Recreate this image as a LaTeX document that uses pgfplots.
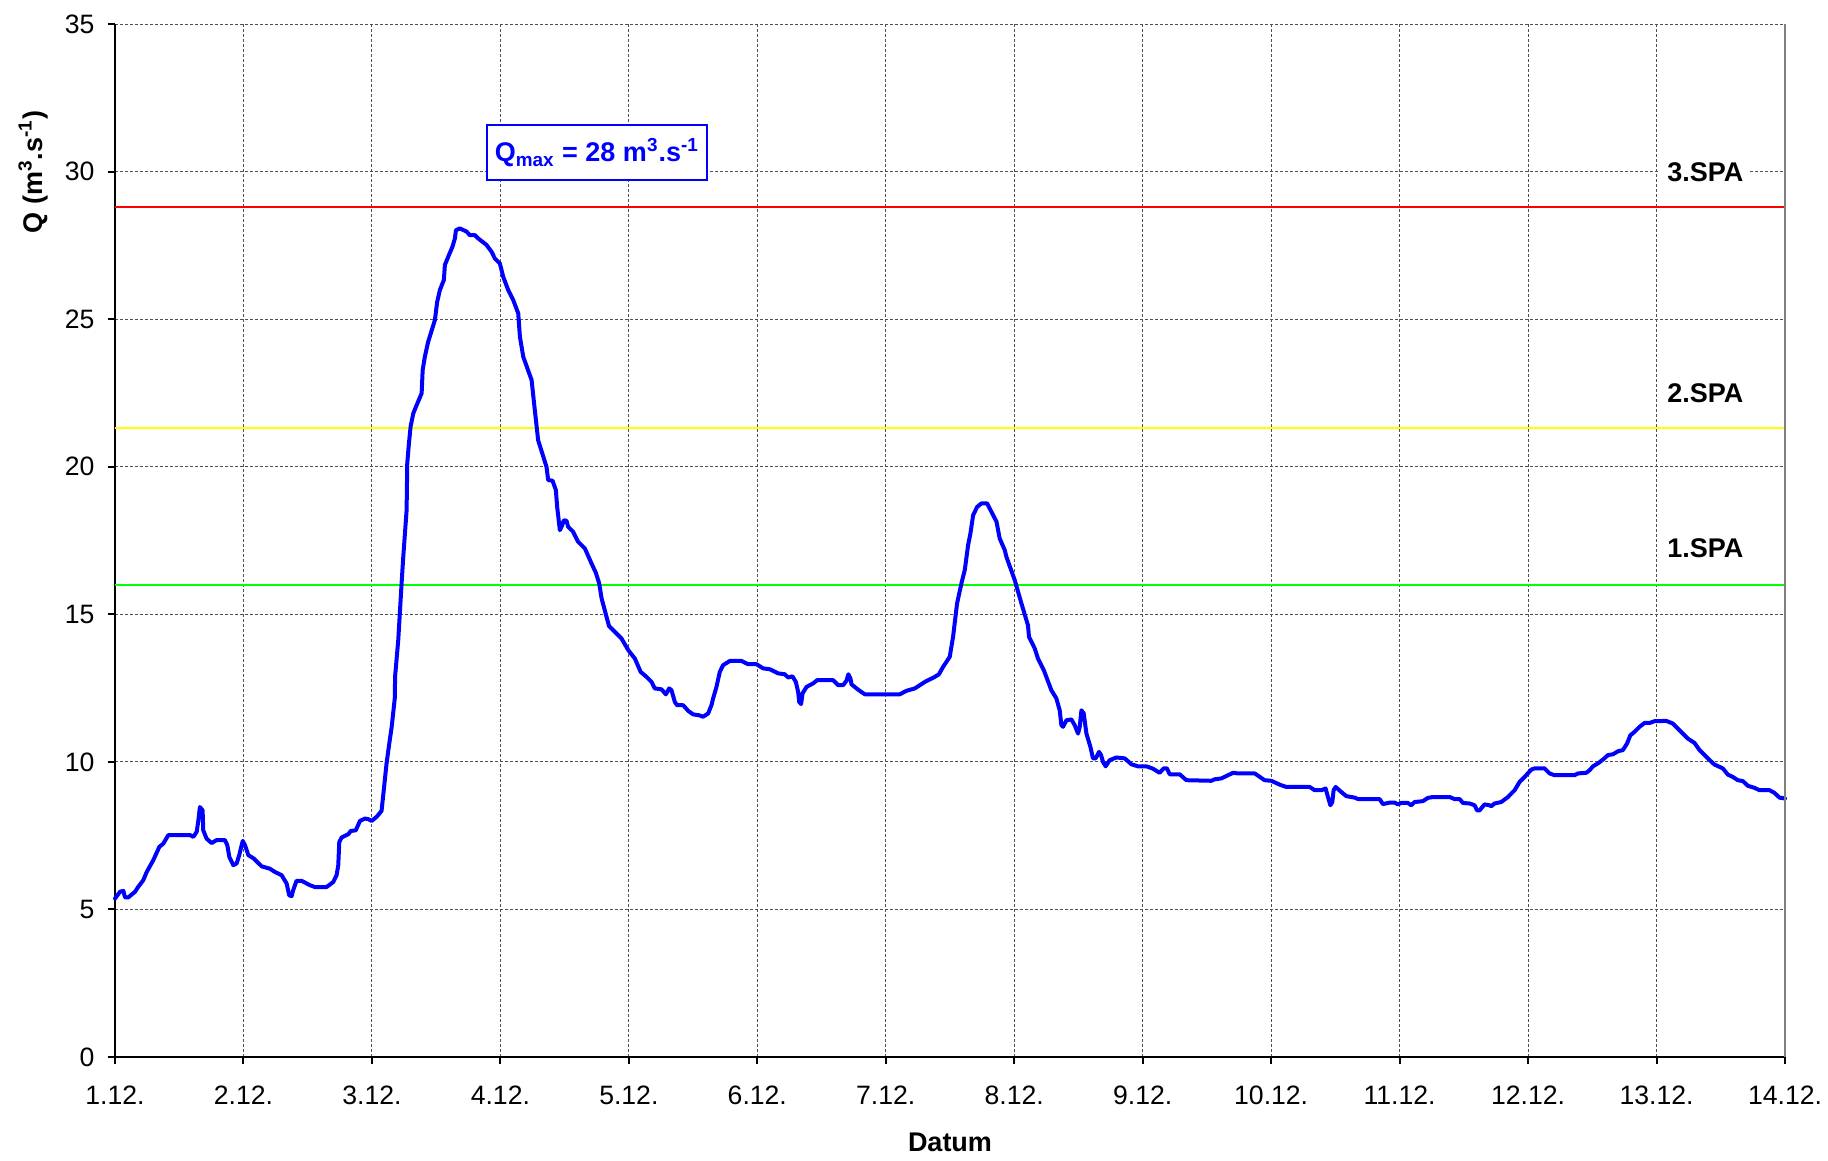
\documentclass[border=0pt]{standalone}
\usepackage{fontspec}
\setmainfont{Liberation Sans}
\usepackage{pgfplots}
\pgfplotsset{compat=1.18}

\definecolor{qblue}{RGB}{0,0,255}
\definecolor{spared}{RGB}{255,0,0}
\definecolor{spayellow}{RGB}{255,255,0}
\definecolor{spagreen}{RGB}{0,255,0}
\definecolor{gridgray}{RGB}{80,80,80}

\begin{document}
\begin{tikzpicture}
\begin{axis}[
  scale only axis,
  width=835pt, height=516.4pt,
  at={(0,0)}, anchor=south west,
  xmin=0, xmax=13, ymin=0, ymax=35,
  xtick={0,1,...,13},
  xticklabels={1.12.,2.12.,3.12.,4.12.,5.12.,6.12.,7.12.,8.12.,9.12.,10.12.,11.12.,12.12.,13.12.,14.12.},
  ytick={0,5,...,35},
  axis x line*=bottom, axis y line*=left,
  axis line style={-, line width=1pt, black},
  tick align=outside,
  major tick length=3.75pt,
  tick style={black, line width=1pt},
  grid=major,
  major grid style={gridgray, line width=0.5pt, dash pattern=on 1.5pt off 1pt},
  /pgf/number format/assume math mode=true,
  tick label style={font=\fontsize{13.3}{15}\selectfont},
  xticklabel style={yshift=-7pt},
  yticklabel style={xshift=-3pt},
  xlabel={\textbf{Datum}},
  xlabel style={at={(axis description cs:0.5,0)}, anchor=center, yshift=-42.8pt,
                font=\fontsize{13.5}{15}\selectfont},
  ylabel={\textbf{Q (m\textsuperscript{3}.s\textsuperscript{-1})}},
  ylabel style={at={(axis description cs:-0.049,0.857)}, anchor=center,
                font=\fontsize{13.5}{15}\selectfont},
  clip=false,
]

% flood warning levels (stupne povodnove aktivity)
\addplot[spared, line width=1pt] coordinates {(0,28.8) (13,28.8)};
\addplot[spayellow, line width=1pt] coordinates {(0,21.3) (13,21.3)};
\addplot[spagreen, line width=1pt] coordinates {(0,16.0) (13,16.0)};

% discharge hydrograph
\addplot[qblue, line width=2pt, line join=round, line cap=round] coordinates {
(0,5.37) (0.039,5.6) (0.065,5.63) (0.078,5.41) (0.104,5.41) (0.156,5.6) (0.18,5.76)
(0.22,5.99) (0.247,6.27) (0.298,6.67) (0.345,7.12) (0.376,7.23) (0.415,7.52) (0.584,7.52)
(0.61,7.46) (0.636,7.63) (0.649,8.02) (0.661,8.47) (0.682,8.36) (0.687,7.68) (0.713,7.4)
(0.752,7.25) (0.791,7.35) (0.856,7.35) (0.874,7.18) (0.89,6.78) (0.921,6.5) (0.947,6.56)
(0.967,6.84) (0.994,7.32) (1.012,7.18) (1.038,6.84) (1.082,6.72) (1.142,6.46) (1.206,6.38)
(1.245,6.27) (1.297,6.16) (1.336,5.88) (1.356,5.48) (1.375,5.45) (1.387,5.65) (1.413,5.97)
(1.453,5.97) (1.518,5.82) (1.556,5.76) (1.647,5.76) (1.699,5.93) (1.725,6.16) (1.738,6.5)
(1.746,7.29) (1.765,7.44) (1.816,7.55) (1.835,7.66) (1.874,7.68) (1.907,8.0) (1.946,8.08)
(1.972,8.06) (1.998,8.0) (2.037,8.14) (2.075,8.34) (2.088,8.87) (2.114,9.95) (2.135,10.62)
(2.154,11.19) (2.179,12.2) (2.18,12.88) (2.205,14.13) (2.231,16.05) (2.244,16.95) (2.27,18.53)
(2.275,20.11) (2.288,20.79) (2.301,21.36) (2.322,21.81) (2.348,22.09) (2.387,22.49) (2.395,23.28)
(2.412,23.73) (2.438,24.24) (2.49,24.97) (2.508,25.59) (2.529,25.99) (2.56,26.33) (2.568,26.84)
(2.594,27.12) (2.627,27.46) (2.646,27.74) (2.654,28.02) (2.685,28.08) (2.737,27.97) (2.763,27.85)
(2.802,27.85) (2.827,27.74) (2.892,27.52) (2.931,27.29) (2.957,27.06) (2.996,26.89) (3.022,26.44)
(3.061,25.99) (3.1,25.65) (3.139,25.2) (3.152,24.41) (3.178,23.73) (3.243,22.94) (3.268,21.92)
(3.294,20.9) (3.359,20.0) (3.372,19.55) (3.406,19.53) (3.432,19.21) (3.442,18.64) (3.463,17.85)
(3.481,18.02) (3.494,18.19) (3.515,18.17) (3.527,17.97) (3.566,17.8) (3.605,17.46) (3.658,17.23)
(3.709,16.73) (3.743,16.41) (3.769,16.05) (3.788,15.54) (3.826,14.92) (3.846,14.6) (3.891,14.41)
(3.943,14.18) (3.995,13.79) (4.047,13.5) (4.092,13.05) (4.138,12.88) (4.177,12.71) (4.202,12.49)
(4.254,12.46) (4.288,12.29) (4.314,12.49) (4.332,12.43) (4.358,12.03) (4.376,11.92) (4.423,11.92)
(4.462,11.73) (4.501,11.61) (4.547,11.58) (4.578,11.53) (4.617,11.64) (4.643,11.92) (4.656,12.15)
(4.682,12.54) (4.708,13.05) (4.734,13.28) (4.786,13.42) (4.877,13.42) (4.928,13.31) (4.994,13.31)
(5.045,13.17) (5.097,13.14) (5.162,13.0) (5.214,12.97) (5.24,12.86) (5.274,12.9) (5.3,12.71)
(5.318,12.37) (5.326,12.03) (5.341,11.96) (5.352,12.32) (5.383,12.54) (5.434,12.66) (5.466,12.77)
(5.59,12.77) (5.629,12.6) (5.668,12.6) (5.694,12.75) (5.709,12.97) (5.725,12.83) (5.733,12.63)
(5.784,12.45) (5.837,12.29) (6.109,12.29) (6.161,12.41) (6.226,12.49) (6.304,12.71) (6.381,12.88)
(6.414,12.97) (6.446,13.22) (6.498,13.56) (6.524,14.24) (6.555,15.37) (6.589,16.05) (6.615,16.5)
(6.641,17.35) (6.659,17.74) (6.68,18.36) (6.711,18.64) (6.745,18.76) (6.789,18.76) (6.823,18.47)
(6.862,18.14) (6.887,17.57) (6.926,17.18) (6.939,16.95) (7.004,16.16) (7.056,15.37) (7.107,14.63)
(7.115,14.24) (7.16,13.84) (7.185,13.5) (7.23,13.11) (7.289,12.43) (7.328,12.15) (7.354,11.75)
(7.367,11.24) (7.38,11.19) (7.406,11.41) (7.445,11.44) (7.471,11.24) (7.497,10.96) (7.51,11.19)
(7.523,11.75) (7.541,11.64) (7.562,10.96) (7.593,10.51) (7.613,10.12) (7.634,10.12) (7.66,10.34)
(7.676,10.23) (7.691,10.0) (7.712,9.85) (7.743,10.06) (7.795,10.15) (7.86,10.12) (7.912,9.92)
(7.963,9.85) (8.029,9.85) (8.08,9.77) (8.132,9.63) (8.163,9.78) (8.189,9.78) (8.21,9.58)
(8.288,9.58) (8.34,9.38) (8.534,9.36) (8.56,9.41) (8.612,9.44) (8.703,9.63) (8.742,9.61)
(8.872,9.61) (8.949,9.38) (9.001,9.36) (9.066,9.23) (9.118,9.15) (9.3,9.15) (9.339,9.04)
(9.391,9.04) (9.424,9.1) (9.442,8.81) (9.461,8.53) (9.476,8.64) (9.486,9.04) (9.502,9.15)
(9.546,8.98) (9.585,8.84) (9.65,8.79) (9.676,8.74) (9.844,8.74) (9.87,8.57) (9.922,8.62)
(9.961,8.62) (9.987,8.56) (10.013,8.61) (10.064,8.61) (10.09,8.53) (10.117,8.64) (10.181,8.67)
(10.22,8.78) (10.259,8.81) (10.389,8.81) (10.428,8.74) (10.467,8.74) (10.493,8.61) (10.545,8.59)
(10.584,8.53) (10.602,8.36) (10.623,8.36) (10.661,8.56) (10.7,8.53) (10.713,8.5) (10.739,8.59)
(10.791,8.64) (10.843,8.81) (10.895,9.04) (10.934,9.32) (10.973,9.49) (11.025,9.74) (11.051,9.78)
(11.128,9.78) (11.167,9.61) (11.206,9.55) (11.362,9.55) (11.388,9.61) (11.453,9.63) (11.479,9.72)
(11.505,9.85) (11.544,9.95) (11.583,10.08) (11.622,10.23) (11.661,10.26) (11.7,10.36) (11.738,10.4)
(11.77,10.62) (11.796,10.9) (11.829,11.02) (11.868,11.19) (11.907,11.32) (11.946,11.32) (11.984,11.38)
(12.076,11.39) (12.127,11.3) (12.166,11.13) (12.244,10.79) (12.296,10.64) (12.335,10.4) (12.399,10.12)
(12.451,9.91) (12.516,9.78) (12.555,9.57) (12.594,9.49) (12.633,9.38) (12.672,9.35) (12.711,9.19)
(12.763,9.12) (12.802,9.04) (12.88,9.04) (12.918,8.95) (12.957,8.79) (13.0,8.76)
};

% right frame of the plot area
\draw[gray, line width=1pt] (rel axis cs:1,0) -- (rel axis cs:1,1);

% level labels
\node[fill=white, inner xsep=3.5pt, inner ysep=2pt, font=\fontsize{13.5}{15}\selectfont\bfseries]
  at (axis cs:12.38,30) {3.SPA};
\node[font=\fontsize{13.5}{15}\selectfont\bfseries] at (axis cs:12.38,22.5) {2.SPA};
\node[font=\fontsize{13.5}{15}\selectfont\bfseries] at (axis cs:12.38,17.25) {1.SPA};

% peak discharge annotation
\node[draw=qblue, fill=white, line width=0.8pt, text=qblue, minimum width=110pt,
      minimum height=27.5pt, inner sep=2pt, font=\fontsize{13.5}{15}\selectfont\bfseries]
  at (axis cs:3.751,30.65)
  {Q\textsubscript{max} = 28 m\textsuperscript{3}.s\textsuperscript{-1}};
\end{axis}
\pgfresetboundingbox
\useasboundingbox (-57.5pt,-51.65pt) rectangle (856.5pt,528.5pt);
\end{tikzpicture}
\end{document}
